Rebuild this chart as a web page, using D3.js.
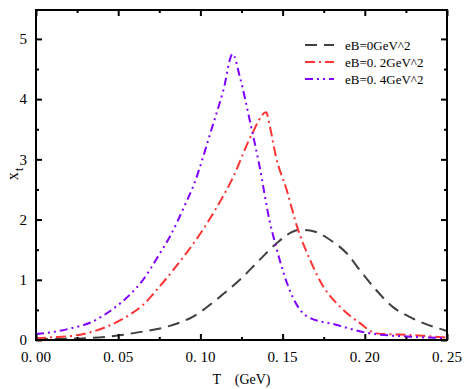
<!DOCTYPE html>
<html>
<head>
<meta charset="utf-8">
<script src="https://cdn.jsdelivr.net/npm/d3@7"></script>
<style>
  body { margin: 0; background: #fff; }
  text { font-family: "Liberation Serif", "DejaVu Serif", serif; }
</style>
</head>
<body>
<svg width="467" height="389"></svg>
<script>
// data
var seriesNames = ["eB=0GeV^2", "eB=0. 2GeV^2", "eB=0. 4GeV^2"];
var seriesColors = ["#404040", "#ff3333", "#7f00ff"];
var seriesDash = ["12,7", "10,4,2,4", "8,4,2,4,2,4"];

var tB0 = [0, 0.015, 0.031, 0.051, 0.065, 0.0795, 0.0956, 0.112, 0.124, 0.136, 0.146, 0.1606, 0.1667, 0.179, 0.189, 0.197, 0.205, 0.217, 0.229, 0.2476, 0.25];
var vB0 = [0.01, 0.02, 0.03, 0.08, 0.14, 0.22, 0.39, 0.72, 1.0, 1.33, 1.6, 1.83, 1.82, 1.66, 1.44, 1.16, 0.89, 0.55, 0.36, 0.17, 0.15];

var tB2 = [0, 0.012, 0.025, 0.043, 0.057, 0.065, 0.0734, 0.0834, 0.0917, 0.0998, 0.109, 0.12, 0.131, 0.14, 0.1423, 0.146, 0.1525, 0.1586, 0.1667, 0.1747, 0.185, 0.197, 0.207, 0.229, 0.25];
var vB2 = [0.03, 0.05, 0.08, 0.22, 0.42, 0.58, 0.83, 1.16, 1.45, 1.76, 2.16, 2.71, 3.4, 3.78, 3.54, 3.04, 2.49, 1.9, 1.33, 0.89, 0.55, 0.28, 0.11, 0.08, 0.04];

var tB4 = [0, 0.012, 0.022, 0.034, 0.046, 0.057, 0.0643, 0.0754, 0.0815, 0.0906, 0.0956, 0.107, 0.114, 0.1196, 0.124, 0.13, 0.136, 0.142, 0.146, 0.156, 0.165, 0.183, 0.201, 0.2275, 0.25];
var vB4 = [0.1, 0.14, 0.2, 0.3, 0.5, 0.75, 0.97, 1.44, 1.72, 2.24, 2.55, 3.52, 4.15, 4.75, 4.37, 3.65, 2.88, 1.99, 1.55, 0.72, 0.39, 0.25, 0.12, 0.055, 0.03];

var xTicks = [0, 0.05, 0.1, 0.15, 0.2, 0.25];
var xTickLabels = ["0. 00", "0. 05", "0. 10", "0. 15", "0. 20", "0. 25"];
var yTicks = [0, 1, 2, 3, 4, 5];

var margin = {top: 10, right: 20, bottom: 49, left: 36},
    width = 467 - margin.left - margin.right,
    height = 389 - margin.top - margin.bottom;

var svg = d3.select("svg")
  .append("g")
  .attr("transform", "translate(" + margin.left + "," + margin.top + ")");

var x = d3.scaleLinear().domain([0, 0.25]).range([0, width]);
var y = d3.scaleLinear().domain([0, 5.48]).range([height, 0]);

// curves
var series = [[tB0, vB0], [tB2, vB2], [tB4, vB4]];
var line = d3.line()
  .x(function(d) { return x(d[0]); })
  .y(function(d) { return y(d[1]); })
  .curve(d3.curveMonotoneX);

svg.append("defs").append("clipPath").attr("id", "clip")
  .append("rect").attr("width", width).attr("height", height);

svg.append("g").attr("clip-path", "url(#clip)")
  .selectAll("path")
  .data(series)
  .enter()
  .append("path")
  .attr("d", function(s) { return line(d3.zip(s[0], s[1])); })
  .attr("fill", "none")
  .attr("stroke", function(s, i) { return seriesColors[i]; })
  .attr("stroke-width", 2)
  .attr("stroke-dasharray", function(s, i) { return seriesDash[i]; });

// axes, ticks inward on all four sides
function drawTicks(axisFn, scale, ticks, size, tr) {
  svg.append("g")
    .attr("transform", tr)
    .call(axisFn(scale).tickValues(ticks).tickSize(size).tickFormat(""))
    .call(function(g) { g.select(".domain").remove(); })
    .selectAll("line").attr("stroke", "#000").attr("stroke-width", 2);
}
var xMinor = [0.025, 0.075, 0.125, 0.175, 0.225];
var yMinor = [0.5, 1.5, 2.5, 3.5, 4.5];
drawTicks(d3.axisTop, x, xTicks, 6, "translate(0," + height + ")");
drawTicks(d3.axisTop, x, xMinor, 3, "translate(0," + height + ")");
drawTicks(d3.axisBottom, x, xTicks, 6, "translate(0,0)");
drawTicks(d3.axisBottom, x, xMinor, 3, "translate(0,0)");
drawTicks(d3.axisRight, y, yTicks, 6, "translate(0,0)");
drawTicks(d3.axisRight, y, yMinor, 3, "translate(0,0)");
drawTicks(d3.axisLeft, y, yTicks, 6, "translate(" + width + ",0)");
drawTicks(d3.axisLeft, y, yMinor, 3, "translate(" + width + ",0)");

svg.append("rect")
  .attr("width", width).attr("height", height)
  .attr("fill", "none").attr("stroke", "#000").attr("stroke-width", 2);

// tick labels
svg.append("g").selectAll("text")
  .data(xTicks)
  .enter().append("text")
  .attr("x", function(d) { return x(d); })
  .attr("y", height + 22)
  .attr("text-anchor", "middle")
  .attr("font-size", 15)
  .text(function(d, i) { return xTickLabels[i]; });

svg.append("g").selectAll("text")
  .data(yTicks)
  .enter().append("text")
  .attr("x", -9)
  .attr("y", function(d) { return y(d); })
  .attr("dy", "0.35em")
  .attr("text-anchor", "end")
  .attr("font-size", 15)
  .text(function(d) { return d; });

// axis titles
svg.append("text")
  .attr("x", width / 2)
  .attr("y", height + 44)
  .attr("text-anchor", "middle")
  .attr("font-size", 14)
  .text("T\u3000(GeV)");

var yl = svg.append("text")
  .attr("transform", "translate(-18," + (height / 2 - 1) + ") rotate(-90)")
  .attr("text-anchor", "middle")
  .attr("font-size", 16);
yl.append("tspan").text("x");
yl.append("tspan").attr("dy", 5).attr("dx", 1).attr("font-size", 13).text("t");

// legend
var legend = svg.append("g").attr("transform", "translate(269,35)");
var rows = legend.selectAll("g")
  .data(seriesNames)
  .enter().append("g")
  .attr("transform", function(d, i) { return "translate(0," + (i * 17) + ")"; });
rows.append("line")
  .attr("x1", 0).attr("x2", 29)
  .attr("stroke", function(d, i) { return seriesColors[i]; })
  .attr("stroke-width", 2)
  .attr("stroke-dasharray", function(d, i) { return seriesDash[i]; });
rows.append("text")
  .attr("x", 40)
  .attr("dy", "0.35em")
  .attr("font-size", 13)
  .text(function(d) { return d; });
</script>
</body>
</html>
